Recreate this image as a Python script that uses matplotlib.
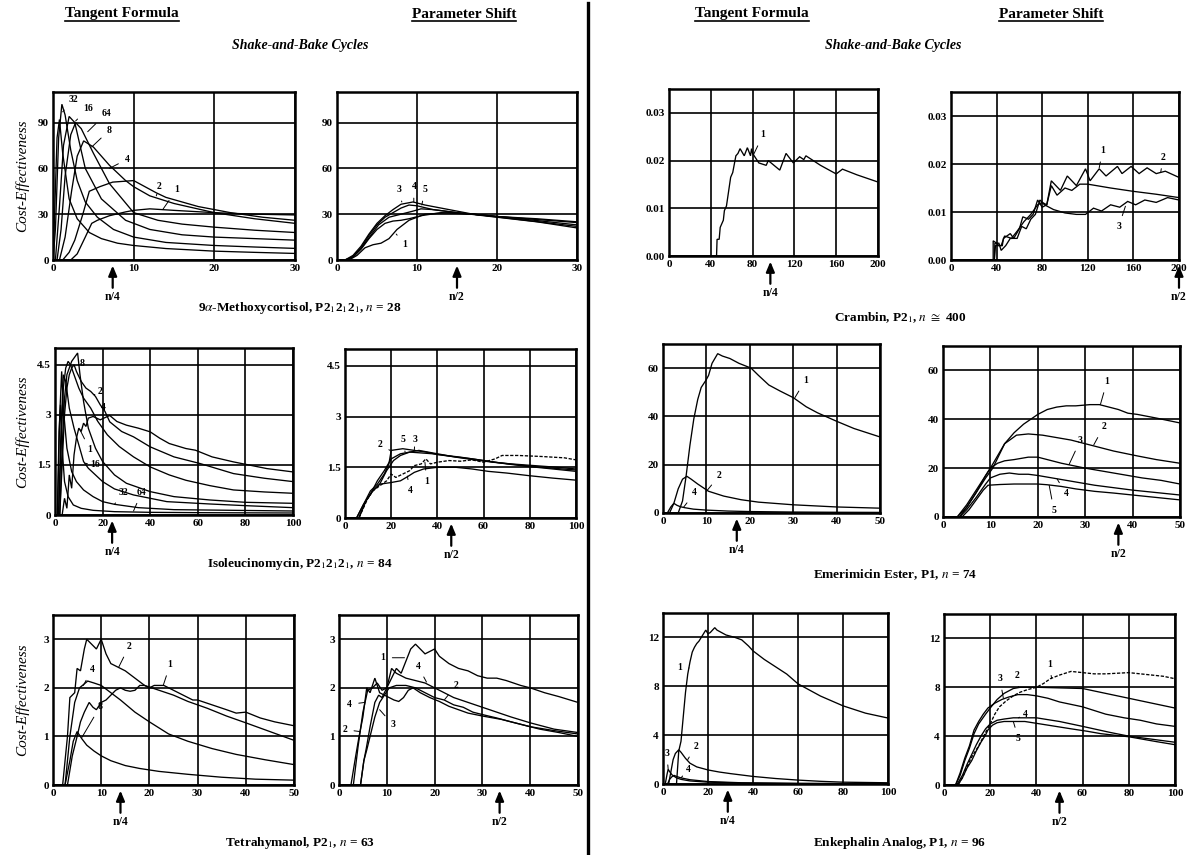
import matplotlib
matplotlib.use("Agg")
import matplotlib.pyplot as plt
from matplotlib.lines import Line2D

plt.rcParams['font.family'] = ['Liberation Serif', 'DejaVu Serif']
plt.rcParams['mathtext.fontset'] = 'stix'

# ---------------- DATA ----------------
# 9a-Methoxycortisol, tangent formula (cycles label -> points)
meth_tf = {
    "1": [(0, 0), (2.2, 0), (3, 4), (4, 15), (4.8, 24), (5.5, 26), (7, 29), (9, 31.5), (10, 32.5), (12, 33.5), (15, 32.5), (20, 31), (25, 30), (30, 29.5)],
    "2": [(0, 0), (1.2, 0), (2, 5), (2.7, 13), (3.7, 30), (4.5, 45), (5.8, 48), (7.4, 51), (10, 52), (12.8, 44), (14, 41), (18, 35), (22, 31), (26, 28), (30, 26)],
    "4": [(0, 0), (0.8, 0), (1.5, 15), (2.3, 45), (3, 68), (3.8, 78), (5, 74), (7, 62), (9, 52), (10, 48), (12, 42), (15, 37), (20, 31), (25, 27), (30, 24)],
    "8": [(0, 0), (0.5, 0), (1, 20), (1.5, 55), (2.2, 82), (2.8, 90), (3.5, 86), (5, 70), (7, 50), (10, 31), (13, 26), (16, 23.5), (20, 21.5), (25, 19.5), (30, 18)],
    "16": [(0, 0), (0.3, 0), (0.8, 35), (1.3, 75), (2, 94), (2.7, 90), (4, 60), (6, 40), (9, 26), (12, 20), (16, 16.5), (20, 15), (25, 14), (30, 13)],
    "32": [(0, 0), (0.3, 20), (0.7, 80), (1.1, 102), (1.5, 95), (2.2, 72), (3, 52), (4, 38), (5.5, 28), (7.5, 20), (10, 15), (14, 11.5), (20, 9.5), (25, 8.5), (30, 7.6)],
    "64": [(0, 0), (0.2, 30), (0.5, 80), (0.8, 92), (1.2, 70), (2, 40), (3, 27), (4.5, 18), (6, 14), (8, 11), (10, 9.5), (14, 7.5), (20, 5.8), (25, 5), (30, 4.3)],
}
meth_ps = {
    "1": [(0, 0), (1.5, 0), (2.5, 3), (3.5, 8), (4.5, 10), (5.5, 11), (6.5, 14), (7.5, 20), (9, 26), (11, 30), (14, 31), (17, 30), (20, 28.5), (25, 27), (30, 25)],
    "2": [(0, 0), (1, 0), (2, 2), (3, 7), (4, 14), (5, 20), (6, 24), (7, 25.5), (8, 26), (9, 27), (10.5, 29), (13, 31), (17, 30), (22, 27.5), (30, 23)],
    "3": [(0, 0), (1, 0), (2, 3), (3, 9), (4, 17), (5, 24), (6, 29), (7, 33), (8, 36.5), (9.5, 38), (11, 36), (14, 33), (17, 30), (22, 27), (30, 22)],
    "4": [(0, 0), (1, 0), (2, 2), (3, 8), (4, 16), (5, 23), (6, 28), (7, 31), (8, 34), (9, 36), (10, 35.5), (12, 33), (15, 31), (20, 28), (25, 25), (30, 21)],
    "5": [(0, 0), (1.2, 0), (2.2, 3), (3.2, 9), (4.2, 16), (5.2, 23), (6.5, 28), (8, 30), (9.5, 32), (10.5, 33.5), (12, 33), (15, 31), (20, 28.5), (25, 26.5), (30, 24.5)],
}
crambin_tf = {
    "1": [(0, 0), (45.5, 0), (46, 0.0035), (48, 0.0035), (49, 0.006), (52, 0.0075), (53, 0.0095), (55, 0.0105), (57, 0.0135), (59, 0.0165), (61, 0.0175), (64, 0.021), (66, 0.0215), (68, 0.0225), (72, 0.021), (75, 0.0227), (78, 0.021), (79, 0.0225), (80, 0.0215), (86, 0.0195), (93, 0.019), (95, 0.020), (106, 0.018), (112, 0.0215), (119, 0.0195), (125, 0.0208), (129, 0.0202), (131, 0.021), (145, 0.019), (160, 0.0172), (166, 0.0182), (180, 0.017), (200, 0.0155)],
}
crambin_ps = {
    "1": [(0, 0), (37, 0), (37, 0.004), (40, 0.0035), (42, 0.003), (45, 0.003), (46, 0.0045), (52, 0.0055), (55, 0.0045), (60, 0.0065), (63, 0.009), (68, 0.0085), (72, 0.0095), (76, 0.0125), (80, 0.011), (84, 0.0115), (88, 0.0165), (96, 0.0145), (102, 0.0175), (110, 0.0155), (118, 0.019), (122, 0.0165), (130, 0.019), (136, 0.0175), (146, 0.0195), (150, 0.018), (158, 0.0195), (165, 0.018), (172, 0.0192), (180, 0.018), (188, 0.0185), (200, 0.0172)],
    "2": [(0, 0), (38, 0), (39, 0.003), (44, 0.003), (47, 0.005), (53, 0.0045), (58, 0.006), (64, 0.008), (70, 0.0095), (76, 0.0115), (80, 0.012), (84, 0.0115), (88, 0.0155), (93, 0.0135), (100, 0.015), (106, 0.0145), (113, 0.0158), (120, 0.0158), (140, 0.015), (160, 0.0143), (180, 0.0137), (200, 0.013)],
    "3": [(0, 0), (38, 0), (38.5, 0.0035), (42, 0.0035), (44, 0.002), (48, 0.003), (52, 0.0045), (58, 0.0045), (62, 0.007), (66, 0.0065), (70, 0.0085), (74, 0.0095), (78, 0.0125), (82, 0.0115), (90, 0.0105), (100, 0.0098), (110, 0.0095), (118, 0.0095), (125, 0.0108), (132, 0.0102), (140, 0.0115), (148, 0.011), (155, 0.0122), (162, 0.0115), (170, 0.0125), (180, 0.012), (190, 0.013), (200, 0.0125)],
}
isoleu_tf = {
    "1": [(0, 0), (3, 0), (4, 0.5), (5, 0.2), (6, 1.2), (7, 0.8), (8, 1.8), (9, 2.3), (10, 2.6), (11, 2.5), (12, 2.75), (13, 2.65), (14, 2.9), (16, 2.95), (19, 2.85), (23, 2.98), (26, 2.8), (30, 2.69), (35, 2.6), (40, 2.49), (44, 2.3), (48, 2.14), (55, 1.99), (59, 1.94), (66, 1.74), (75, 1.59), (89, 1.39), (100, 1.29)],
    "2": [(0, 0), (2, 0), (3, 1.5), (4, 3), (5, 3.8), (6, 4.2), (7, 4.4), (8, 4.5), (9, 4.3), (11, 4.0), (13, 3.8), (15, 3.7), (17, 3.55), (19, 3.3), (21, 3.1), (23, 2.79), (28, 2.5), (33, 2.34), (40, 2.04), (50, 1.74), (61, 1.54), (75, 1.24), (88, 1.1), (100, 1.0)],
    "4": [(0, 0), (1.5, 0), (2.5, 2), (3.5, 3.8), (4.5, 4.4), (5.5, 4.6), (6.5, 4.5), (8, 4.2), (10, 3.8), (12, 3.5), (15, 3.2), (18, 2.8), (22, 2.4), (27, 2.05), (33, 1.74), (40, 1.44), (48, 1.2), (55, 1.04), (65, 0.88), (75, 0.75), (88, 0.69), (100, 0.65)],
    "8": [(0, 0), (2, 0), (3, 2), (4, 3.5), (5, 4.2), (6, 4.4), (7, 4.6), (8.5, 4.75), (9.5, 4.85), (10.5, 4.2), (12, 3.4), (14, 2.6), (17, 2.0), (20, 1.6), (25, 1.2), (30, 0.95), (40, 0.7), (50, 0.55), (65, 0.45), (80, 0.38), (100, 0.35)],
    "16": [(0, 0), (1.5, 0), (2.5, 2.5), (3.5, 4.2), (4.5, 4.0), (6, 3.2), (8, 2.6), (10, 2.1), (12, 1.6), (14, 1.4), (17, 1.2), (20, 1.0), (25, 0.78), (33, 0.6), (47, 0.4), (65, 0.33), (80, 0.28), (100, 0.22)],
    "32": [(0, 0), (1, 0), (2, 3.0), (2.8, 4.3), (3.5, 3.2), (5, 2.0), (7, 1.3), (9, 1.0), (12, 0.75), (16, 0.55), (20, 0.4), (25, 0.32), (35, 0.22), (50, 0.16), (75, 0.14), (100, 0.12)],
    "64": [(0, 0), (1, 0), (1.7, 2.5), (2.3, 3.3), (3, 2.0), (4, 1.0), (5.5, 0.55), (7.7, 0.3), (11, 0.2), (16, 0.14), (25, 0.1), (40, 0.08), (60, 0.07), (100, 0.06)],
}
isoleu_ps = {
    "1": [(0, 0), (6, 0), (8, 0.3), (10, 0.6), (12, 0.8), (14, 0.9), (16, 1.0), (18, 1.1), (20, 1.3), (22, 1.2), (25, 1.3), (28, 1.4), (30, 1.55), (33, 1.6), (35, 1.75), (37, 1.6), (40, 1.65), (45, 1.7), (50, 1.68), (55, 1.72), (60, 1.65), (65, 1.75), (68, 1.85), (75, 1.85), (85, 1.82), (95, 1.78), (100, 1.72)],
    "2": [(0, 0), (5, 0), (8, 0.4), (11, 0.8), (14, 1.0), (17, 1.3), (19, 1.6), (20, 2.0), (25, 2.05), (30, 2.0), (35, 1.95), (40, 1.88), (50, 1.8), (60, 1.7), (70, 1.6), (80, 1.52), (90, 1.45), (100, 1.38)],
    "3": [(0, 0), (6, 0), (9, 0.5), (12, 0.8), (15, 1.0), (18, 1.4), (21, 1.7), (24, 1.85), (28, 1.95), (32, 2.0), (36, 1.95), (40, 1.9), (48, 1.8), (56, 1.72), (64, 1.65), (72, 1.6), (82, 1.55), (92, 1.5), (100, 1.45)],
    "4": [(0, 0), (6, 0), (9, 0.5), (12, 0.8), (15, 1.0), (20, 1.05), (24, 1.1), (27, 1.22), (30, 1.35), (34, 1.45), (40, 1.5), (48, 1.5), (55, 1.45), (62, 1.38), (70, 1.33), (80, 1.25), (90, 1.18), (100, 1.12)],
    "5": [(0, 0), (5, 0), (8, 0.4), (11, 0.7), (14, 1.1), (17, 1.4), (20, 1.75), (24, 1.9), (28, 1.95), (32, 1.93), (38, 1.9), (45, 1.83), (55, 1.75), (65, 1.65), (75, 1.57), (85, 1.5), (100, 1.42)],
}
emer_tf = {
    "1": [(0, 0), (3.5, 0), (4.5, 5), (5.3, 15), (6.2, 28), (7.1, 39), (8, 47), (8.8, 52), (9.9, 55), (10.5, 57), (11.3, 62), (12.6, 66), (13.7, 65), (15.4, 64), (17.5, 62), (20.3, 60), (22, 57), (24.4, 53), (27, 50.5), (30, 47.8), (33, 44), (35.6, 41.5), (40, 38), (44, 35), (50, 31.5)],
    "2": [(0, 0), (1.5, 0), (2.5, 4), (3.5, 10), (4.5, 14), (5.5, 15.2), (6.5, 14), (8, 12), (10.5, 9), (14, 7), (18, 5.5), (22, 4.5), (30, 3.4), (40, 2.5), (50, 2)],
    "4": [(0, 0), (1, 0), (1.8, 2.5), (2.5, 4), (3.2, 3.2), (4, 2.6), (5, 2.2), (7, 1.6), (10, 1.2), (15, 0.8), (20, 0.6), (30, 0.4), (40, 0.3), (50, 0.25)],
}
emer_ps = {
    "1": [(0, 0), (3.5, 0), (5, 4), (7, 10), (9, 16), (10.5, 20), (12, 26), (13, 30), (15, 34.5), (17, 38), (20, 42), (22, 44), (24, 45), (26, 45.5), (28, 45.5), (31, 46), (33, 46), (35, 45), (37, 44), (39, 42.5), (41, 42), (45, 40.5), (50, 38.5)],
    "2": [(0, 0), (3, 0), (5, 4), (7, 10), (9, 17), (10, 20), (11.5, 25), (13, 30), (15.5, 33.5), (18, 34), (21, 33.5), (24, 32.5), (27, 31.5), (30, 30), (33, 28.5), (36, 27), (41, 25), (45, 23.5), (50, 22)],
    "3": [(0, 0), (3, 0), (5, 5), (7, 11), (9, 17), (10, 20), (11.5, 22), (13, 23), (15, 23.5), (18, 24.5), (20, 24.5), (22, 23.5), (25, 22), (30, 20), (36, 18), (42, 16), (46, 15), (50, 13.5)],
    "4": [(0, 0), (3.5, 0), (5, 3), (7, 8), (9, 13.5), (10, 16), (12, 17.5), (14, 18), (16, 17.5), (18, 17.5), (20, 17), (23, 16), (26, 15), (32, 13), (40, 11), (45, 10), (50, 9)],
    "5": [(0, 0), (4, 0), (5.5, 3), (7, 7), (8.5, 11), (9.5, 13), (12, 13.3), (15, 13.5), (20, 13.5), (22, 13.2), (25, 12.5), (28, 11.5), (32, 10.5), (36, 9.8), (40, 9), (45, 8), (50, 7)],
}
tetra_tf = {
    "1": [(0, 0), (3, 0), (4, 0.6), (5, 1.0), (5.7, 1.3), (6.5, 1.5), (7.5, 1.7), (8.3, 1.6), (9, 1.55), (10, 1.7), (11, 1.75), (12, 1.85), (13, 1.95), (14, 2.0), (15, 1.95), (16, 1.93), (17, 1.95), (18, 2.05), (19, 2.05), (20, 2.0), (21, 2.05), (23, 2.05), (25, 1.95), (27, 1.85), (29, 1.75), (30, 1.75), (33, 1.65), (36, 1.55), (38, 1.48), (40, 1.5), (43, 1.38), (46, 1.3), (50, 1.22)],
    "2": [(0, 0), (2, 0), (3, 1.0), (3.5, 1.8), (4.5, 1.9), (5, 2.4), (5.7, 2.35), (6.5, 2.8), (7, 3.0), (8, 2.9), (9, 2.8), (10, 3.0), (11, 2.7), (12, 2.5), (13, 2.45), (15, 2.35), (17, 2.2), (19, 2.05), (22, 1.95), (25, 1.85), (28, 1.72), (32, 1.58), (36, 1.42), (40, 1.28), (45, 1.1), (50, 0.92)],
    "4": [(0, 0), (2.5, 0), (3.5, 1.0), (4.5, 1.7), (5.5, 2.0), (7.2, 2.14), (8.5, 2.1), (10, 2.05), (12, 1.9), (14, 1.75), (17, 1.5), (20, 1.3), (24, 1.05), (28, 0.9), (33, 0.75), (38, 0.63), (44, 0.52), (50, 0.42)],
    "8": [(0, 0), (2.5, 0), (3.5, 0.5), (4.2, 0.9), (5, 1.1), (6, 0.95), (7, 0.82), (8.5, 0.7), (10, 0.6), (12, 0.5), (15, 0.4), (18, 0.34), (22, 0.28), (28, 0.22), (35, 0.16), (42, 0.12), (50, 0.1)],
}
tetra_ps = {
    "1": [(0, 0), (4.5, 0), (5.2, 0.5), (5.7, 0.75), (6.5, 1.2), (7.5, 1.7), (8.3, 1.85), (9, 1.8), (10, 2.0), (11, 2.2), (12, 2.4), (13, 2.3), (14, 2.55), (15, 2.8), (16, 2.9), (17, 2.8), (18, 2.7), (19, 2.75), (20, 2.8), (21, 2.65), (23, 2.5), (25, 2.4), (27, 2.35), (29, 2.25), (31, 2.2), (33, 2.2), (35, 2.15), (38, 2.05), (40, 2.0), (43, 1.9), (46, 1.82), (50, 1.7)],
    "2": [(0, 0), (2.5, 0), (3.5, 0.6), (4.2, 1.0), (5, 1.4), (5.8, 2.0), (6.5, 1.9), (7.5, 2.2), (8.5, 1.9), (9.5, 1.85), (10.5, 2.0), (12, 2.05), (14, 2.05), (16, 2.0), (18, 1.9), (20, 1.8), (22, 1.75), (24, 1.65), (26, 1.6), (28, 1.5), (30, 1.45), (33, 1.38), (36, 1.3), (40, 1.2), (45, 1.12), (50, 1.05)],
    "3": [(0, 0), (4.5, 0), (5.2, 0.5), (5.8, 0.72), (6.5, 1.0), (7.5, 1.4), (8.5, 1.7), (9.5, 1.85), (10.5, 1.8), (11.5, 1.75), (12.5, 1.72), (13.5, 1.8), (14.5, 1.95), (15.5, 2.0), (17, 1.9), (19, 1.8), (21, 1.72), (23, 1.62), (25, 1.55), (27, 1.48), (30, 1.42), (34, 1.35), (38, 1.25), (42, 1.15), (46, 1.08), (50, 1.0)],
    "4": [(0, 0), (3, 0), (4, 0.8), (5, 1.5), (6, 1.95), (7, 2.0), (8, 2.1), (9, 1.95), (10, 2.0), (11, 2.4), (12, 2.3), (14, 2.2), (16, 2.15), (18, 2.1), (20, 2.0), (22, 1.9), (24, 1.8), (27, 1.7), (30, 1.6), (33, 1.5), (36, 1.4), (40, 1.28), (45, 1.15), (50, 1.08)],
}
enk_tf = {
    "1": [(0, 0), (6, 0), (7, 2.7), (8, 3.5), (9, 5.5), (10, 7.5), (11, 9), (12, 10), (13, 10.8), (14, 11.2), (15, 11.5), (16, 11.7), (17, 12), (18, 12.3), (19, 12.6), (20, 12.3), (21, 12.4), (22, 12.6), (23, 12.8), (24, 12.6), (26, 12.4), (28, 12.2), (32, 12.0), (35, 11.8), (38, 11.3), (40, 10.9), (45, 10.2), (50, 9.6), (55, 9.0), (60, 8.2), (65, 7.7), (70, 7.2), (75, 6.8), (80, 6.4), (85, 6.1), (90, 5.8), (95, 5.6), (100, 5.4)],
    "2": [(0, 0), (2.5, 0), (3.5, 1.0), (4.5, 2.0), (5.5, 2.5), (7, 2.8), (8, 2.6), (10, 2.1), (12, 1.7), (15, 1.4), (20, 1.15), (25, 0.98), (30, 0.85), (40, 0.62), (50, 0.45), (60, 0.32), (70, 0.22), (80, 0.15), (100, 0.1)],
    "3": [(0, 0), (1, 0), (1.8, 0.8), (2.3, 1.2), (3, 1.0), (4, 0.75), (6, 0.5), (8, 0.38), (12, 0.25), (20, 0.15), (35, 0.08), (60, 0.04), (100, 0.02)],
    "4": [(0, 0), (2, 0), (3, 0.4), (4, 0.6), (5, 0.7), (6, 0.62), (8, 0.5), (12, 0.35), (20, 0.2), (35, 0.1), (60, 0.05), (100, 0.03)],
}
enk_ps = {
    "1": [(0, 0), (6, 0), (8, 0.6), (10, 1.5), (12, 2.3), (15, 3.2), (18, 4.3), (20, 5.0), (22, 5.8), (24, 6.4), (27, 6.9), (30, 7.3), (33, 7.6), (36, 7.8), (40, 8.0), (43, 8.3), (46, 8.7), (50, 9.0), (55, 9.3), (60, 9.2), (65, 9.1), (70, 9.1), (75, 9.15), (80, 9.2), (85, 9.1), (90, 9.0), (95, 8.9), (100, 8.7)],
    "2": [(0, 0), (5, 0), (7, 0.8), (9, 2.0), (11, 3.0), (13, 4.2), (15, 5.0), (18, 5.8), (20, 6.3), (23, 7.0), (26, 7.5), (30, 7.9), (33, 8.0), (40, 8.0), (50, 7.95), (60, 7.9), (65, 7.7), (70, 7.5), (75, 7.3), (80, 7.1), (85, 6.9), (90, 6.7), (95, 6.5), (100, 6.3)],
    "3": [(0, 0), (5, 0), (7, 1.0), (9, 2.2), (11, 3.2), (13, 4.5), (15, 5.2), (17, 5.8), (19, 6.3), (22, 6.7), (25, 7.0), (28, 7.2), (32, 7.4), (36, 7.4), (40, 7.3), (45, 7.1), (50, 6.8), (55, 6.6), (60, 6.4), (65, 6.1), (70, 5.8), (78, 5.5), (85, 5.3), (92, 5.0), (100, 4.8)],
    "4": [(0, 0), (5.5, 0), (8, 0.8), (10, 1.7), (12, 2.5), (14, 3.3), (16, 4.0), (18, 4.6), (20, 5.0), (23, 5.3), (26, 5.4), (30, 5.5), (35, 5.5), (40, 5.5), (45, 5.35), (50, 5.2), (55, 5.0), (60, 4.8), (66, 4.55), (72, 4.3), (80, 4.0), (86, 3.85), (92, 3.7), (100, 3.5)],
    "5": [(0, 0), (6, 0), (8, 0.6), (10, 1.4), (12, 2.0), (14, 2.8), (16, 3.5), (18, 4.1), (19, 4.5), (21, 4.9), (23, 5.1), (26, 5.2), (30, 5.2), (35, 5.2), (40, 5.05), (45, 4.9), (50, 4.75), (55, 4.6), (62, 4.4), (68, 4.2), (75, 4.05), (80, 3.95), (86, 3.75), (92, 3.55), (100, 3.3)],
}

# axis tick values
ticks_meth_x = [0, 10, 20, 30]
ticks_meth_y = [0, 30, 60, 90]
ticks_cram_x = [0, 40, 80, 120, 160, 200]
ticks_cram_y = [0.00, 0.01, 0.02, 0.03]
ticks_iso_x = [0, 20, 40, 60, 80, 100]
ticks_iso_y = [0, 1.5, 3, 4.5]
ticks_emer_x = [0, 10, 20, 30, 40, 50]
ticks_emer_y = [0, 20, 40, 60]
ticks_tet_x = [0, 10, 20, 30, 40, 50]
ticks_tet_y = [0, 1, 2, 3]
ticks_enk_x = [0, 20, 40, 60, 80, 100]
ticks_enk_y = [0, 4, 8, 12]

captions = [
    r"9$\alpha$-Methoxycortisol, P2$_1$2$_1$2$_1$, $n$ = 28",
    r"Crambin, P2$_1$, $n$ $\cong$ 400",
    r"Isoleucinomycin, P2$_1$2$_1$2$_1$, $n$ = 84",
    r"Emerimicin Ester, P1, $n$ = 74",
    r"Tetrahymanol, P2$_1$, $n$ = 63",
    r"Enkephalin Analog, P1, $n$ = 96",
]

# ---------------- LAYOUT ----------------
W, H = 1192, 855
fig = plt.figure(figsize=(W / 100, H / 100), dpi=100)


def add_ax(l, t, r, b):
    return fig.add_axes([l / W, 1 - b / H, (r - l) / W, (b - t) / H])


panels = [
    dict(box=(53, 92, 295, 260), data=meth_tf, xlim=30, ylim=110, xt=ticks_meth_x, yt=ticks_meth_y,
         fmt="{:g}", arr=7.4, al="n/4", ylab=True,
         labels=[("32", (2.5, 105), (1.2, 97)), ("16", (4.3, 99), (2.8, 91)), ("64", (6.6, 96), (4.3, 84)),
                 ("8", (7.0, 85), (4.8, 74)), ("4", (9.2, 66), (7.0, 60)), ("2", (13.2, 48), (12.8, 42)),
                 ("1", (15.3, 46), (13.6, 33))]),
    dict(box=(337, 92, 577, 260), data=meth_ps, xlim=30, ylim=110, xt=ticks_meth_x, yt=ticks_meth_y,
         fmt="{:g}", arr=15, al="n/2", ylab=False,
         labels=[("3", (7.7, 46), (8.1, 38)), ("4", (9.6, 48), (9.6, 38)), ("5", (11.0, 46), (10.6, 36)),
                 ("1", (8.5, 10), (7.4, 17))]),
    dict(box=(669, 89, 878, 256), data=crambin_tf, xlim=200, ylim=0.035, xt=ticks_cram_x, yt=ticks_cram_y,
         fmt="{:.2f}", arr=97, al="n/4", ylab=False,
         labels=[("1", (90, 0.0254), (81, 0.0213))]),
    dict(box=(951, 92, 1179, 260), data=crambin_ps, xlim=200, ylim=0.035, xt=ticks_cram_x, yt=ticks_cram_y,
         fmt="{:.2f}", arr=200, al="n/2", ylab=False,
         labels=[("1", (133, 0.0228), (130, 0.0192)), ("2", (186, 0.0214), (184, 0.0183)),
                 ("3", (147, 0.0069), (153, 0.0112))]),
    dict(box=(55, 348, 293, 515), data=isoleu_tf, xlim=100, ylim=5, xt=ticks_iso_x, yt=ticks_iso_y,
         fmt="{:g}", arr=24, al="n/4", ylab=True,
         labels=[("8", (11.5, 4.55), (9.8, 4.5)), ("2", (18.9, 3.7), (16.5, 3.6)), ("4", (20.3, 3.22), (17.5, 2.85)),
                 ("1", (14.7, 1.95), (10.5, 2.55)), ("16", (16.8, 1.5), (12.6, 1.55)),
                 ("32", (28.7, 0.68), (25, 0.32)), ("64", (36.4, 0.68), (33, 0.12))]),
    dict(box=(345, 349, 576, 518), data=isoleu_ps, xlim=100, ylim=5, xt=ticks_iso_x, yt=ticks_iso_y,
         fmt="{:g}", arr=46, al="n/2", ylab=False,
         labels=[("2", (15.2, 2.17), (19.5, 2.0)), ("5", (25.3, 2.32), (26, 1.95)), ("3", (30.3, 2.32), (30, 2.0)),
                 ("1", (35.4, 1.08), (34.6, 1.65)), ("4", (28.1, 0.8), (27, 1.24))]),
    dict(box=(663, 344, 880, 513), data=emer_tf, xlim=50, ylim=70, xt=ticks_emer_x, yt=ticks_emer_y,
         fmt="{:g}", arr=17, al="n/4", ylab=False,
         labels=[("1", (32.8, 55), (30.4, 47.8)), ("2", (13, 15.5), (10, 9)), ("4", (7.3, 8.3), (4.7, 2.3))]),
    dict(box=(943, 346, 1180, 517), data=emer_ps, xlim=50, ylim=70, xt=ticks_emer_x, yt=ticks_emer_y,
         fmt="{:g}", arr=37, al="n/2", ylab=False,
         labels=[("1", (34.6, 55.5), (33.2, 46)), ("2", (33.9, 37), (31.8, 29.5)), ("3", (29, 31.5), (26.6, 21.5)),
                 ("4", (25.9, 9.6), (24.1, 15.5)), ("5", (23.4, 2.7), (22.4, 13))]),
    dict(box=(53, 615, 294, 785), data=tetra_tf, xlim=50, ylim=3.5, xt=ticks_tet_x, yt=ticks_tet_y,
         fmt="{:g}", arr=14, al="n/4", ylab=True,
         labels=[("2", (15.8, 2.86), (13.6, 2.42)), ("1", (24.3, 2.48), (22.9, 2.06)), ("4", (8.1, 2.38), (6.3, 2.05)),
                 ("8", (9.8, 1.62), (6.0, 0.98))]),
    dict(box=(339, 615, 578, 785), data=tetra_ps, xlim=50, ylim=3.5, xt=ticks_tet_x, yt=ticks_tet_y,
         fmt="{:g}", arr=33.6, al="n/2", ylab=False,
         labels=[("1", (9.2, 2.62), (13.7, 2.62)), ("4", (16.5, 2.45), (18.3, 2.12)), ("2", (24.5, 2.05), (22.1, 1.76)),
                 ("4", (2.2, 1.66), (5.4, 1.7)), ("2", (1.2, 1.14), (4.4, 1.1)), ("3", (11.3, 1.24), (8.5, 1.55))]),
    dict(box=(663, 613, 888, 784), data=enk_tf, xlim=100, ylim=14, xt=ticks_enk_x, yt=ticks_enk_y,
         fmt="{:g}", arr=28.8, al="n/4", ylab=False,
         labels=[("1", (7.4, 9.5), (11.6, 9.5)), ("2", (14.5, 3.1), (11, 2.0)), ("3", (1.7, 2.5), (2.3, 1.2)),
                 ("4", (11, 1.15), (8, 0.5))]),
    dict(box=(944, 614, 1175, 785), data=enk_ps, xlim=100, ylim=14, xt=ticks_enk_x, yt=ticks_enk_y,
         fmt="{:g}", arr=50, al="n/2", ylab=False,
         labels=[("1", (45.6, 9.9), (46.6, 8.7)), ("2", (31.5, 9.0), (32.2, 8.0)), ("3", (24.2, 8.7), (25.7, 7.1)),
                 ("4", (35, 5.75), (32.2, 5.5)), ("5", (32.2, 3.8), (30, 5.2))]),
]

dashed = {(id(isoleu_ps), "1"), (id(enk_ps), "1")}

for p in panels:
    ax = add_ax(*p["box"])
    for key, pts in p["data"].items():
        xs = [q[0] for q in pts]
        ys = [q[1] for q in pts]
        ls = (0, (2.5, 1.2)) if (id(p["data"]), key) in dashed else "-"
        ax.plot(xs, ys, color="black", lw=0.95, ls=ls, solid_joinstyle="miter", clip_on=True)
    ax.set_xlim(0, p["xlim"])
    ax.set_ylim(0, p["ylim"])
    ax.set_xticks(p["xt"])
    ax.set_yticks(p["yt"])
    ax.set_xticklabels(["{:g}".format(v) for v in p["xt"]])
    ax.set_yticklabels([p["fmt"].format(v) for v in p["yt"]])
    ax.tick_params(length=0, pad=3, labelsize=8)
    for lab in ax.get_xticklabels() + ax.get_yticklabels():
        lab.set_fontweight("bold")
    ax.grid(True, color="black", lw=1.2)
    ax.set_axisbelow(True)
    for s in ax.spines.values():
        s.set_linewidth(1.8)
    for txt, tpos, ppos in p["labels"]:
        ax.annotate(txt, xy=ppos, xytext=tpos, fontsize=7, fontweight="bold", ha="center", va="center",
                    arrowprops=dict(arrowstyle="-", lw=0.7, color="black", shrinkA=3, shrinkB=0),
                    annotation_clip=False)
    ax.annotate("", xy=(p["arr"], 0), xycoords=("data", "axes fraction"), xytext=(0, -20),
                textcoords="offset points",
                arrowprops=dict(arrowstyle="-|>,head_length=0.6,head_width=0.25", lw=1.6, color="black",
                                shrinkA=0, shrinkB=4),
                annotation_clip=False)
    ax.annotate(p["al"], xy=(p["arr"], 0), xycoords=("data", "axes fraction"), xytext=(0, -26.5),
                textcoords="offset points", ha="center", va="center", fontsize=8.5, fontweight="bold",
                annotation_clip=False)
    if p["ylab"]:
        fig.text(22 / W, 1 - ((p["box"][1] + p["box"][3]) / 2) / H, "Cost-Effectiveness", rotation=90,
                 ha="center", va="center", fontsize=11, style="italic")

hdrs = []
for x, s in [(122, "Tangent Formula"), (464, "Parameter Shift"), (752, "Tangent Formula"), (1051, "Parameter Shift")]:
    hdrs.append(fig.text(x / W, 1 - 14 / H, s, ha="center", va="center", fontsize=11, fontweight="bold"))
for x in (300, 893):
    fig.text(x / W, 1 - 46 / H, "Shake-and-Bake Cycles", ha="center", va="center", fontsize=10,
             fontweight="bold", style="italic")

cap_pos = [(300, 308), (900, 318), (300, 564), (895, 575), (300, 843), (900, 843)]
for (x, y), s in zip(cap_pos, captions):
    fig.text(x / W, 1 - y / H, s, ha="center", va="center", fontsize=9.5, fontweight="bold")

fig.add_artist(Line2D([588 / W, 588 / W], [0, 1 - 3 / H], color="black", lw=2.4, transform=fig.transFigure))

fig.canvas.draw()
r = fig.canvas.get_renderer()
for t in hdrs:
    bb = t.get_window_extent(renderer=r)
    y = bb.y0 - 1
    fig.add_artist(Line2D([bb.x0 / W, bb.x1 / W], [y / H, y / H], color="black", lw=1.2,
                          transform=fig.transFigure))

fig.savefig("out.png", dpi=100, facecolor="white")
